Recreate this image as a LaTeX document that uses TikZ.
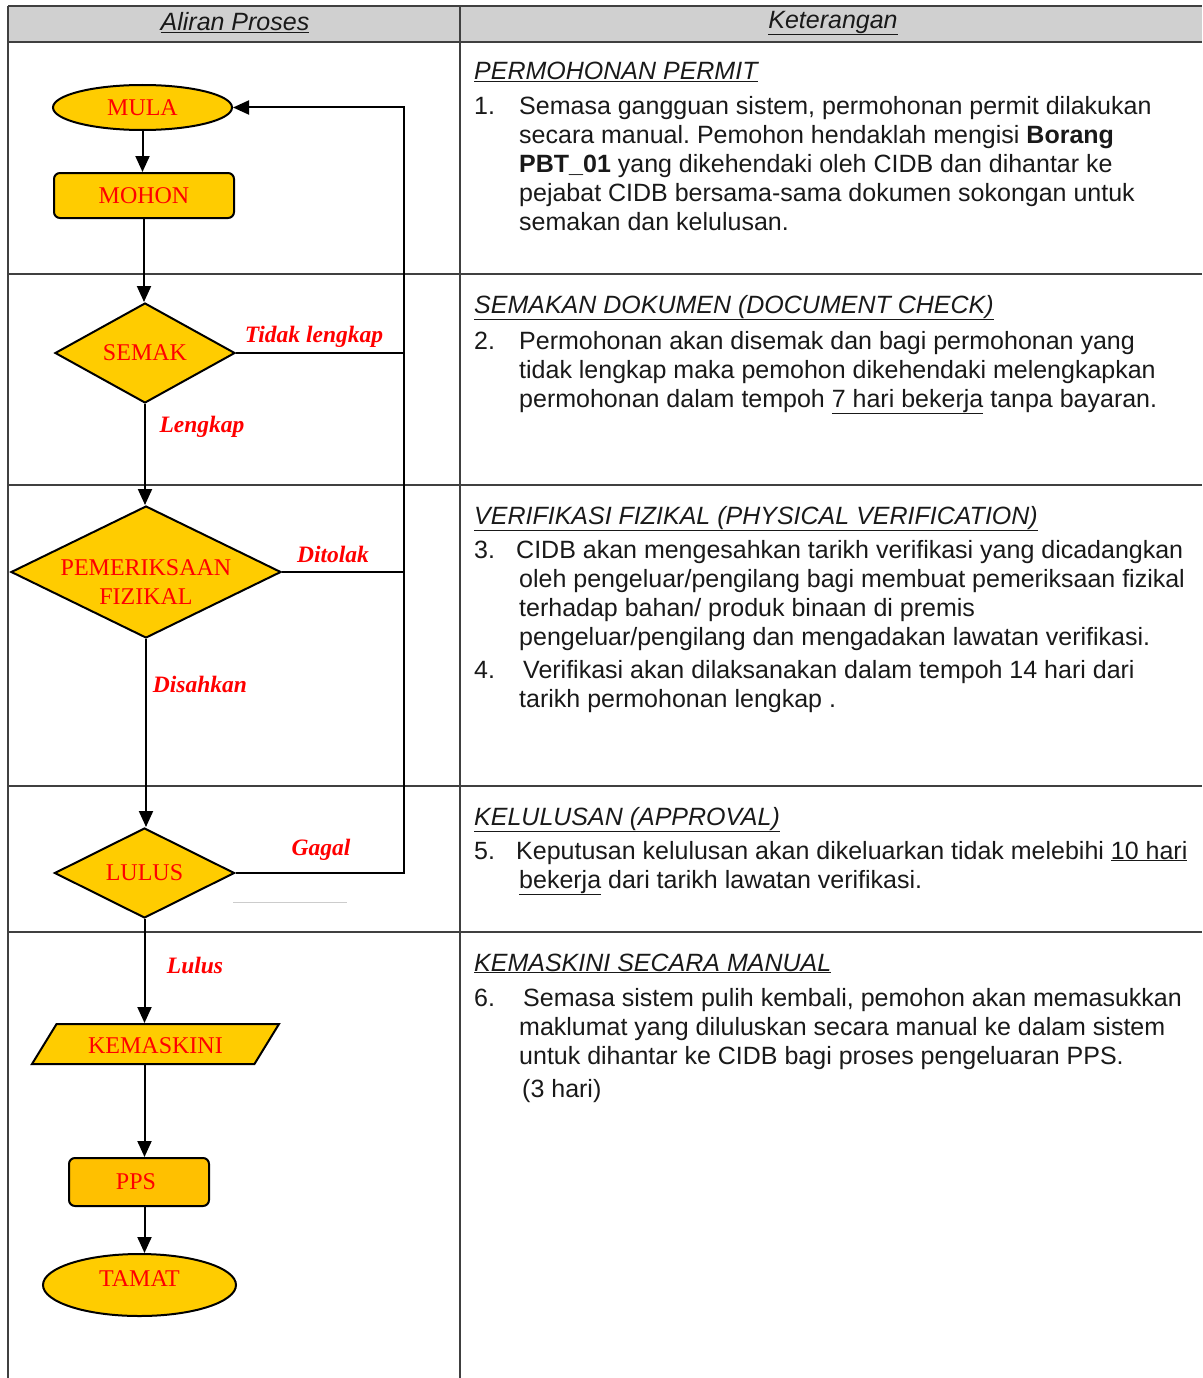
\documentclass[tikz,border=0pt]{standalone}
\usepackage{fontspec}
\setmainfont{Liberation Serif}
\newfontfamily\arialf{Liberation Sans}
\usetikzlibrary{shapes.geometric,arrows.meta,calc}
\definecolor{fy}{HTML}{FFCC00}
\definecolor{fo}{HTML}{FFC000}
\definecolor{tline}{HTML}{404040}
\definecolor{hgray}{HTML}{D0D0D0}
\definecolor{lred}{HTML}{FF0000}
\frenchspacing
\begin{document}
\begin{tikzpicture}[x=1pt,y=-1pt,
 flow/.style={draw=black, line width=2pt, fill=fy, text=lred, font=\fontsize{24}{29}\selectfont, inner sep=0pt, align=center},
 ell/.style={flow, ellipse},
 rbox/.style={flow, rectangle, rounded corners=6pt},
 dia/.style={flow, diamond, aspect=2},
 para/.style={flow, trapezium, trapezium left angle=33.3, trapezium right angle=146.7, trapezium stretches body},
 arr/.style={line width=2pt, -{Triangle[length=16pt,width=14pt]}},
 lnk/.style={line width=2pt},
 lbl/.style={text=lred, font=\fontsize{23.5}{27}\selectfont\bfseries\itshape, inner sep=0pt},
 grid/.style={draw=tline, line width=1.8pt},
 body/.style={font=\arialf\fontsize{25}{29}\selectfont, anchor=base west, inner sep=0pt, text=black!90},
 head/.style={font=\arialf\itshape\fontsize{25}{29}\selectfont, inner sep=0pt, text=black!90},
]
\useasboundingbox (0,0) rectangle (1202,1378);
% table
\fill[hgray] (8,6) rectangle (1202,42);
\draw[grid] (8,6) -- (1202,6);
\draw[grid] (8,42) -- (1202,42);
\foreach \yy in {274,485,786,932} \draw[grid] (8,\yy) -- (1202,\yy);
\draw[grid] (8,6) -- (8,1378);
\draw[grid] (460,6) -- (460,1378);
\node[head] (h1) at (235,23) {\underline{Aliran Proses}};
\node[head] (h2) at (833,23) {\underline{Keterangan}};

% flowchart nodes
\node[ell, minimum width=179pt, minimum height=45pt] (MULA) at (142.5,107.5) {MULA};
\node[rbox, minimum width=180pt, minimum height=45pt] (MOHON) at (144,195.5) {MOHON};
\node[dia, minimum width=180pt, minimum height=100pt] (SEMAK) at (145,353) {SEMAK};
\node[dia, minimum width=270pt, minimum height=132pt] (PEM) at (146,572) {\raisebox{-18pt}[15pt][15pt]{\begin{tabular}{@{}c@{}}PEMERIKSAAN\\FIZIKAL\end{tabular}}};
\node[dia, minimum width=180pt, minimum height=90pt] (LULUS) at (144.5,873) {LULUS};
\node[para, minimum width=247pt, minimum height=40pt] (KEM) at (155.5,1044) {\raisebox{-2pt}[\height][\depth]{KEMASKINI}};
\node[rbox, fill=fo, minimum width=140pt, minimum height=48pt] (PPS) at (139,1182) {\hspace*{-6pt}PPS};
\node[ell, minimum width=193pt, minimum height=62pt] (TAMAT) at (139.5,1285) {\raisebox{6pt}[\height][\depth]{TAMAT}};

% connectors
\coordinate (lx) at (404,0);
\draw[arr] (MULA.south) -- (MULA.south |- MOHON.north);
\draw[arr] (MOHON.south) -- (MOHON.south |- SEMAK.north);
\draw[arr] (SEMAK.south) -- (SEMAK.south |- PEM.north);
\draw[arr] (PEM.south) -- (PEM.south |- LULUS.north);
\draw[arr] (LULUS.south) -- (LULUS.south |- KEM.north);
\draw[arr] (LULUS.south |- KEM.south) -- (LULUS.south |- PPS.north);
\draw[arr] (LULUS.south |- PPS.south) -- (LULUS.south |- TAMAT.north);
\draw[arr] (LULUS.east) -- (LULUS.east -| lx) -- (lx |- MULA.east) -- (MULA.east);
\draw[lnk] (SEMAK.east) -- (SEMAK.east -| lx);
\draw[lnk] (PEM.east) -- (PEM.east -| lx);
\draw[draw=black!20, line width=1pt] (233,902) -- (347,902);

% labels
\node[lbl] (l1) at (314,337) {Tidak lengkap};
\node[lbl] (l2) at (202,427) {Lengkap};
\node[lbl] (l3) at (333,554) {Ditolak};
\node[lbl] (l4) at (200,684) {Disahkan};
\node[lbl] (l5) at (321,850) {Gagal};
\node[lbl] (l6) at (195,965) {Lulus};

% right column text
\node[body] (r1t) at (474,80) {\itshape\underline{PERMOHONAN PERMIT}};
\node[body] (r1n) at (474,114) {1.};
\node[body] (r1a) at (519,114) {Semasa gangguan sistem, permohonan permit dilakukan};
\node[body] (r1b) at (519,143) {secara manual. Pemohon hendaklah mengisi \textbf{Borang}};
\node[body] (r1c) at (519,172) {\textbf{PBT\_01} yang dikehendaki oleh CIDB dan dihantar ke};
\node[body] (r1d) at (519,201) {pejabat CIDB bersama-sama dokumen sokongan untuk};
\node[body] (r1e) at (519,230) {semakan dan kelulusan.};

\node[body] (r2t) at (474,313) {\itshape\underline{SEMAKAN DOKUMEN (DOCUMENT CHECK)}};
\node[body] (r2n) at (474,349) {2.};
\node[body] (r2a) at (519,349) {Permohonan akan disemak dan bagi permohonan yang};
\node[body] (r2b) at (519,378) {tidak lengkap maka pemohon dikehendaki melengkapkan};
\node[body] (r2c) at (519,407) {permohonan dalam tempoh \underline{7 hari bekerja} tanpa bayaran.};

\node[body] (r3t) at (474,524) {\itshape\underline{VERIFIKASI FIZIKAL (PHYSICAL VERIFICATION)}};
\node[body] (r3n) at (474,558) {3.};
\node[body] (r3a) at (516,558) {CIDB akan mengesahkan tarikh verifikasi yang dicadangkan};
\node[body] (r3b) at (519,587) {oleh pengeluar/pengilang bagi membuat pemeriksaan fizikal};
\node[body] (r3c) at (519,616) {terhadap bahan/ produk binaan di premis};
\node[body] (r3d) at (519,645) {pengeluar/pengilang dan mengadakan lawatan verifikasi.};
\node[body] (r4n) at (474,678) {4.};
\node[body] (r4a) at (523,678) {Verifikasi akan dilaksanakan dalam tempoh 14 hari dari};
\node[body] (r4b) at (519,707) {tarikh permohonan lengkap .};

\node[body] (r5t) at (474,825) {\itshape\underline{KELULUSAN (APPROVAL)}};
\node[body] (r5n) at (474,859) {5.};
\node[body] (r5a) at (516,859) {Keputusan kelulusan akan dikeluarkan tidak melebihi \underline{10 hari}};
\node[body] (r5b) at (519,888) {\underline{bekerja} dari tarikh lawatan verifikasi.};

\node[body] (r6t) at (474,971) {\itshape\underline{KEMASKINI SECARA MANUAL}};
\node[body] (r6n) at (474,1006) {6.};
\node[body] (r6a) at (523,1006) {Semasa sistem pulih kembali, pemohon akan memasukkan};
\node[body] (r6b) at (519,1035) {maklumat yang diluluskan secara manual ke dalam sistem};
\node[body] (r6c) at (519,1064) {untuk dihantar ke CIDB bagi proses pengeluaran PPS.};
\node[body] (r6d) at (522,1097) {(3 hari)};
\end{tikzpicture}
\end{document}
